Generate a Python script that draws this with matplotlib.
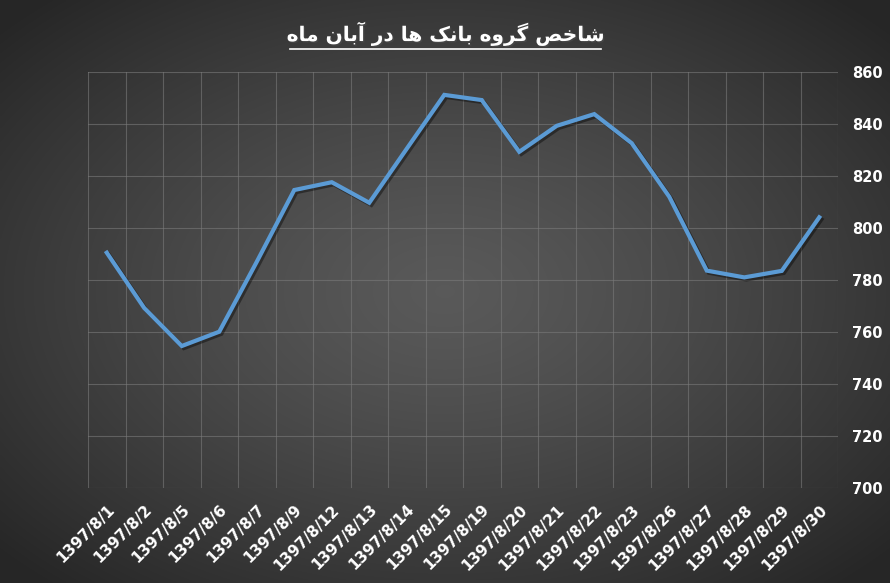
import matplotlib
matplotlib.use("Agg")
import matplotlib.pyplot as plt
import matplotlib.patheffects as pe
from matplotlib.lines import Line2D
import numpy as np

dates = ["1397/8/1", "1397/8/2", "1397/8/5", "1397/8/6", "1397/8/7", "1397/8/9",
         "1397/8/12", "1397/8/13", "1397/8/14", "1397/8/15", "1397/8/19", "1397/8/20",
         "1397/8/21", "1397/8/22", "1397/8/23", "1397/8/26", "1397/8/27", "1397/8/28",
         "1397/8/29", "1397/8/30"]
index_vals = [790.5, 769.2, 754.6, 760.1, 787.0, 814.6, 817.6, 809.7, 830.5, 851.2,
              849.2, 829.3, 839.3, 843.8, 832.6, 812.0, 783.6, 781.0, 783.5, 804.1]
y_ticks = [700, 720, 740, 760, 780, 800, 820, 840, 860]
title = "شاخص گروه بانک ها در آبان ماه"

# very small arabic/persian shaper: presentation forms (iso, fin, ini, med)
FORMS = {
    "ا": ("\uFE8D", "\uFE8E", None, None),
    "آ": ("\uFE81", "\uFE82", None, None),
    "د": ("\uFEA9", "\uFEAA", None, None),
    "ر": ("\uFEAD", "\uFEAE", None, None),
    "و": ("\uFEED", "\uFEEE", None, None),
    "ش": ("\uFEB5", "\uFEB6", "\uFEB7", "\uFEB8"),
    "خ": ("\uFEA5", "\uFEA6", "\uFEA7", "\uFEA8"),
    "ص": ("\uFEB9", "\uFEBA", "\uFEBB", "\uFEBC"),
    "گ": ("\uFB92", "\uFB93", "\uFB94", "\uFB95"),
    "ه": ("\uFEE9", "\uFEEA", "\uFEEB", "\uFEEC"),
    "ب": ("\uFE8F", "\uFE90", "\uFE91", "\uFE92"),
    "ن": ("\uFEE5", "\uFEE6", "\uFEE7", "\uFEE8"),
    "ک": ("\uFB8E", "\uFB8F", "\uFB90", "\uFB91"),
    "م": ("\uFEE1", "\uFEE2", "\uFEE3", "\uFEE4"),
}


def shape(text):
    out = []
    for i, ch in enumerate(text):
        if ch not in FORMS:
            out.append(ch)
            continue
        prev = text[i - 1] if i > 0 else None
        nxt = text[i + 1] if i < len(text) - 1 else None
        dual = FORMS[ch][2] is not None
        jp = prev in FORMS and FORMS[prev][2] is not None
        jn = dual and nxt in FORMS
        if jp and jn:
            out.append(FORMS[ch][3])
        elif jp:
            out.append(FORMS[ch][1])
        elif jn:
            out.append(FORMS[ch][2])
        else:
            out.append(FORMS[ch][0])
    return "".join(out)[::-1]


fig = plt.figure(figsize=(8.9, 5.83), dpi=100)

# radial gradient background
bg = fig.add_axes([0, 0, 1, 1], zorder=-10)
xx, yy = np.meshgrid(np.linspace(-1, 1, 400), np.linspace(-1, 1, 300))
r = np.sqrt(xx ** 2 + yy ** 2)
shade = 0.35 - 0.2 * np.clip(r / 1.35, 0, 1) ** 1.3
img = np.dstack([shade, shade, shade])
bg.imshow(img, aspect="auto", extent=[0, 1, 0, 1], interpolation="bilinear")
bg.axis("off")

ax = fig.add_axes([0.0989, 0.163, 0.8427, 0.7135])
ax.patch.set_alpha(0)
x = np.arange(len(dates))
ax.plot(x, index_vals, color="#5B9BD5", lw=3, solid_joinstyle="miter",
        path_effects=[pe.SimpleLineShadow(offset=(1.5, -1.5), alpha=0.4), pe.Normal()])

ax.set_xlim(-0.5, len(dates) - 0.5)
ax.set_ylim(700, 860)
ax.set_yticks(y_ticks)
ax.set_xticks(x)
ax.set_xticks(np.arange(-0.5, len(dates), 1), minor=True)
ax.grid(True, which="minor", axis="x", color="#7a7a7a", lw=0.8, alpha=0.6)
ax.grid(True, which="major", axis="y", color="#7a7a7a", lw=0.8, alpha=0.6)
ax.yaxis.tick_right()
ax.tick_params(axis="both", which="both", length=0)
ax.tick_params(axis="y", labelcolor="white", labelsize=10.5, pad=10)
ax.set_xticklabels(dates, rotation=45, ha="right", va="top", rotation_mode="anchor",
                   color="white", fontsize=11, fontweight="bold")
for lab in ax.get_yticklabels():
    lab.set_fontweight("bold")
for s in ax.spines.values():
    s.set_visible(False)
ax.tick_params(axis="x", pad=10)

fig.text(0.501, 0.942, shape(title), color="white", fontsize=14.5, fontweight="bold",
         ha="center", va="center", family="DejaVu Sans",
         path_effects=[pe.withSimplePatchShadow(offset=(1, -1), alpha=0.6)])
fig.add_artist(Line2D([0.326, 0.675], [0.916, 0.916], color="white", lw=1.2,
                      transform=fig.transFigure))

fig.savefig("out.png", dpi=100)
